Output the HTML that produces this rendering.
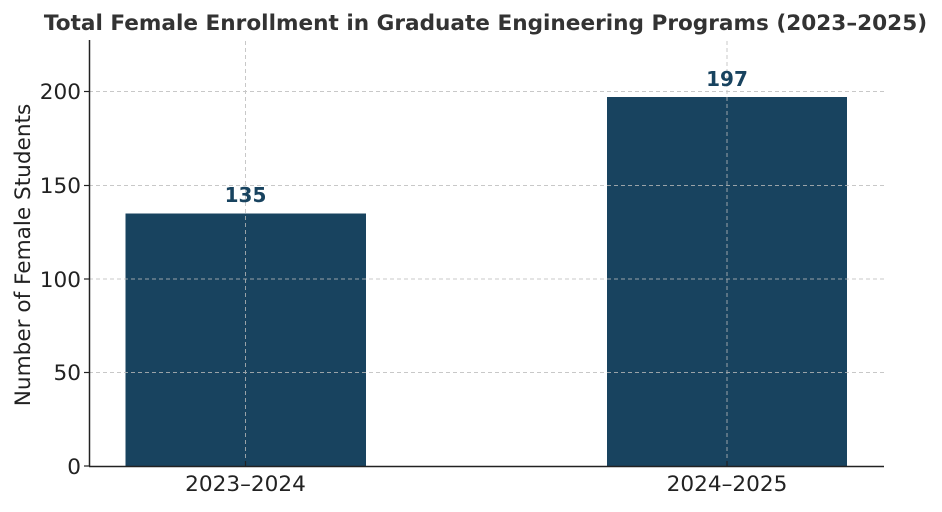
<!DOCTYPE html>
<html><head><style>body{margin:0;background:#fff}</style></head><body>
<svg width="942" height="507" xmlns="http://www.w3.org/2000/svg" font-family="DejaVu Sans, sans-serif">
<rect width="942" height="507" fill="#fff"/>
<text x="485.5" y="30" text-anchor="middle" font-size="21.6" font-weight="bold" fill="#333">Total Female Enrollment in Graduate Engineering Programs (2023–2025)</text>
<rect x="125.5" y="213.5" width="240.5" height="252.5" fill="#18435f"/>
<rect x="607" y="97" width="240" height="369" fill="#18435f"/>
<g stroke="#bbb" stroke-width="1" stroke-dasharray="4,3" opacity="0.8">
<line x1="89" x2="884" y1="372.5" y2="372.5"/>
<line x1="89" x2="884" y1="279" y2="279"/>
<line x1="89" x2="884" y1="185.5" y2="185.5"/>
<line x1="89" x2="884" y1="91.5" y2="91.5"/>
<line x1="245.5" x2="245.5" y1="41" y2="466"/>
<line x1="727" x2="727" y1="41" y2="466"/>
</g>
<line x1="89.5" y1="40" x2="89.5" y2="466" stroke="#222" stroke-width="1.5"/>
<line x1="89" y1="466.5" x2="884" y2="466.5" stroke="#222" stroke-width="1.5"/>
<g stroke="#222" stroke-width="1.2">
<line x1="84" x2="89" y1="466" y2="466"/><line x1="84" x2="89" y1="372.5" y2="372.5"/>
<line x1="84" x2="89" y1="279" y2="279"/><line x1="84" x2="89" y1="185.5" y2="185.5"/>
<line x1="84" x2="89" y1="91.5" y2="91.5"/>
<line x1="245.5" x2="245.5" y1="461" y2="466"/><line x1="727" x2="727" y1="461" y2="466"/>
</g>
<g font-size="21.6" fill="#222" text-anchor="end">
<text x="81" y="474">0</text><text x="81" y="380">50</text><text x="81" y="287">100</text>
<text x="81" y="193">150</text><text x="81" y="99">200</text>
</g>
<g font-size="21.6" fill="#222" text-anchor="middle">
<text x="245.5" y="491">2023–2024</text><text x="727" y="491">2024–2025</text>
</g>
<text transform="translate(30,255) rotate(-90)" font-size="21.6" fill="#222" text-anchor="middle">Number of Female Students</text>
<g font-size="20" font-weight="bold" fill="#18435f" text-anchor="middle">
<text x="245.5" y="202">135</text><text x="727" y="86">197</text>
</g>
</svg>
</body></html>
